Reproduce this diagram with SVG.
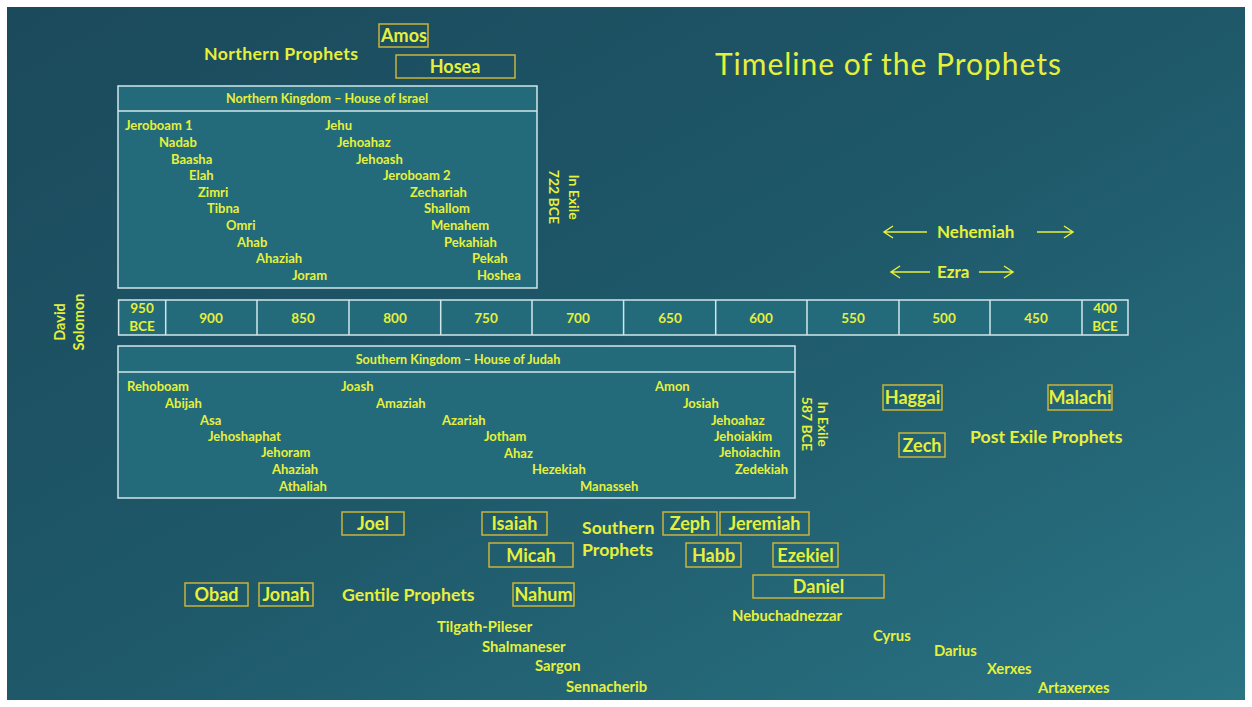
<svg xmlns="http://www.w3.org/2000/svg" width="1252" height="707" viewBox="0 0 1252 707">
<defs>
<linearGradient id="bg" x1="0" y1="0" x2="1" y2="1">
<stop offset="0" stop-color="#1b4a5c"/>
<stop offset="0.5" stop-color="#1e5869"/>
<stop offset="1" stop-color="#2a7484"/>
</linearGradient>
<style>
.t{font-family:Lato,"Liberation Sans",sans-serif;font-weight:bold;fill:#e6f03a}
.k{font-size:13px}
.h{font-size:12.6px;text-anchor:middle}
.p{font-size:18px;text-anchor:middle}
.l{font-size:17.7px}
.y{font-size:13.5px;text-anchor:middle}
.r{font-size:14.8px}
.v{font-size:14px;text-anchor:middle}
.pb{fill:none;stroke:#c8b43a;stroke-width:1.5}
.box{fill:#236b7b;stroke:#d2e6ea;stroke-width:1.5}
.div{stroke:#d2e6ea;stroke-width:1.5}
.ar{fill:none;stroke:#e6f03a;stroke-width:1.5}
</style>
</defs>
<rect x="0" y="0" width="1252" height="707" fill="#ffffff"/>
<rect x="7" y="7" width="1238" height="693" fill="url(#bg)"/>

<text class="t" x="715" y="75" font-size="30" style="font-weight:normal" textLength="346">Timeline of the Prophets</text>

<g id="northern-prophets">
<text class="t l" x="204" y="60" textLength="154">Northern  Prophets</text>
</g>
<g id="amos"><rect class="pb" x="379" y="24" width="49" height="23"/><text class="t p" x="404" y="42">Amos</text></g>
<g id="hosea"><rect class="pb" x="396" y="55" width="119" height="23"/><text class="t p" x="455" y="73">Hosea</text></g>

<g id="northern-kingdom">
<rect class="box" x="118" y="86" width="419" height="202"/>
<line class="div" x1="118" y1="111" x2="537" y2="111"/>
<text class="t h" x="327" y="103">Northern Kingdom – House of Israel</text>
<text class="t k" x="125" y="130">Jeroboam 1</text>
<text class="t k" x="159" y="147">Nadab</text>
<text class="t k" x="171" y="164">Baasha</text>
<text class="t k" x="189" y="180">Elah</text>
<text class="t k" x="198" y="197">Zimri</text>
<text class="t k" x="207" y="213">Tibna</text>
<text class="t k" x="226" y="230">Omri</text>
<text class="t k" x="237" y="247">Ahab</text>
<text class="t k" x="256" y="263">Ahaziah</text>
<text class="t k" x="292" y="280">Joram</text>
<text class="t k" x="325" y="130">Jehu</text>
<text class="t k" x="337" y="147">Jehoahaz</text>
<text class="t k" x="356" y="164">Jehoash</text>
<text class="t k" x="383" y="180">Jeroboam 2</text>
<text class="t k" x="410" y="197">Zechariah</text>
<text class="t k" x="424" y="213">Shallom</text>
<text class="t k" x="431" y="230">Menahem</text>
<text class="t k" x="444" y="247">Pekahiah</text>
<text class="t k" x="472" y="263">Pekah</text>
<text class="t k" x="477" y="280">Hoshea</text>
</g>

<g id="exile-722">
<text class="t v" transform="translate(569,197) rotate(90)">In Exile</text>
<text class="t v" transform="translate(549,197) rotate(90)">722 BCE</text>
</g>

<g id="david-solomon">
<text class="t" font-size="14.5" text-anchor="middle" transform="translate(65,322) rotate(-90)">David</text>
<text class="t" font-size="14.5" text-anchor="middle" transform="translate(84,322) rotate(-90)">Solomon</text>
</g>

<g id="timeline">
<rect class="box" x="118.6" y="300" width="1009.4" height="35"/>
<line class="div" x1="165.7" y1="300" x2="165.7" y2="335"/>
<line class="div" x1="257" y1="300" x2="257" y2="335"/>
<line class="div" x1="349" y1="300" x2="349" y2="335"/>
<line class="div" x1="440.7" y1="300" x2="440.7" y2="335"/>
<line class="div" x1="532" y1="300" x2="532" y2="335"/>
<line class="div" x1="623.6" y1="300" x2="623.6" y2="335"/>
<line class="div" x1="715.7" y1="300" x2="715.7" y2="335"/>
<line class="div" x1="807" y1="300" x2="807" y2="335"/>
<line class="div" x1="899" y1="300" x2="899" y2="335"/>
<line class="div" x1="990" y1="300" x2="990" y2="335"/>
<line class="div" x1="1082" y1="300" x2="1082" y2="335"/>
<text class="t y" x="142" y="313">950</text>
<text class="t y" x="142" y="331">BCE</text>
<text class="t y" x="211" y="323">900</text>
<text class="t y" x="303" y="323">850</text>
<text class="t y" x="395" y="323">800</text>
<text class="t y" x="486" y="323">750</text>
<text class="t y" x="578" y="323">700</text>
<text class="t y" x="670" y="323">650</text>
<text class="t y" x="761" y="323">600</text>
<text class="t y" x="853" y="323">550</text>
<text class="t y" x="944" y="323">500</text>
<text class="t y" x="1036" y="323">450</text>
<text class="t y" x="1105" y="313">400</text>
<text class="t y" x="1105" y="331">BCE</text>
</g>

<g id="southern-kingdom">
<rect class="box" x="118" y="346" width="677" height="152"/>
<line class="div" x1="118" y1="372" x2="795" y2="372"/>
<text class="t h" x="458" y="364">Southern  Kingdom – House of Judah</text>
<text class="t k" x="127" y="391">Rehoboam</text>
<text class="t k" x="165" y="408">Abijah</text>
<text class="t k" x="200" y="425">Asa</text>
<text class="t k" x="208" y="441">Jehoshaphat</text>
<text class="t k" x="261" y="457">Jehoram</text>
<text class="t k" x="272" y="474">Ahaziah</text>
<text class="t k" x="279" y="491">Athaliah</text>
<text class="t k" x="341" y="391">Joash</text>
<text class="t k" x="376" y="408">Amaziah</text>
<text class="t k" x="442" y="425">Azariah</text>
<text class="t k" x="484" y="441">Jotham</text>
<text class="t k" x="504" y="458">Ahaz</text>
<text class="t k" x="532" y="474">Hezekiah</text>
<text class="t k" x="580" y="491">Manasseh</text>
<text class="t k" x="655" y="391">Amon</text>
<text class="t k" x="683" y="408">Josiah</text>
<text class="t k" x="711" y="425">Jehoahaz</text>
<text class="t k" x="714" y="441">Jehoiakim</text>
<text class="t k" x="719" y="457">Jehoiachin</text>
<text class="t k" x="735" y="474">Zedekiah</text>
</g>

<g id="exile-587">
<text class="t v" transform="translate(818,424) rotate(90)">In Exile</text>
<text class="t v" transform="translate(802,424) rotate(90)">587 BCE</text>
</g>

<g id="nehemiah"><text class="t" font-size="17" x="937" y="238">Nehemiah</text></g>
<g id="ezra"><text class="t" font-size="17" x="937" y="278">Ezra</text></g>

<g id="connectors">
<path class="ar" d="M927 232 H884 M893 226 L884 232 L893 238"/>
<path class="ar" d="M1037 232 H1073 M1064 226 L1073 232 L1064 238"/>
<path class="ar" d="M930 272 H891 M900 266 L891 272 L900 278"/>
<path class="ar" d="M979 272 H1013 M1004 266 L1013 272 L1004 278"/>
</g>

<g id="haggai"><rect class="pb" x="883" y="385" width="59" height="25"/><text class="t p" x="912.5" y="404">Haggai</text></g>
<g id="malachi"><rect class="pb" x="1048" y="385" width="64" height="25"/><text class="t p" x="1080" y="404">Malachi</text></g>
<g id="zech"><rect class="pb" x="899" y="433" width="46" height="24"/><text class="t p" x="922" y="452">Zech</text></g>
<g id="post-exile-prophets"><text class="t l" x="970" y="443">Post Exile Prophets</text></g>

<g id="joel"><rect class="pb" x="342" y="512" width="62" height="23"/><text class="t p" x="373" y="530">Joel</text></g>
<g id="isaiah"><rect class="pb" x="482" y="512" width="65" height="23"/><text class="t p" x="514.5" y="530">Isaiah</text></g>
<g id="micah"><rect class="pb" x="489" y="543" width="84" height="24"/><text class="t p" x="531" y="562">Micah</text></g>
<g id="southern-prophets">
<text class="t l" x="582" y="534">Southern</text>
<text class="t l" x="582" y="556">Prophets</text>
</g>
<g id="zeph"><rect class="pb" x="663" y="512" width="54" height="23"/><text class="t p" x="690" y="530">Zeph</text></g>
<g id="jeremiah"><rect class="pb" x="720" y="512" width="89" height="23"/><text class="t p" x="764.5" y="530">Jeremiah</text></g>
<g id="habb"><rect class="pb" x="686" y="543" width="55" height="24"/><text class="t p" x="713.5" y="562">Habb</text></g>
<g id="ezekiel"><rect class="pb" x="773" y="543" width="65" height="24"/><text class="t p" x="805.5" y="562">Ezekiel</text></g>
<g id="daniel"><rect class="pb" x="753" y="575" width="131" height="23"/><text class="t p" x="818.5" y="593">Daniel</text></g>

<g id="obad"><rect class="pb" x="185" y="583" width="63" height="23"/><text class="t p" x="216.5" y="601">Obad</text></g>
<g id="jonah"><rect class="pb" x="259" y="583" width="54" height="23"/><text class="t p" x="286" y="601">Jonah</text></g>
<g id="gentile-prophets"><text class="t l" x="342" y="601">Gentile Prophets</text></g>
<g id="nahum"><rect class="pb" x="513" y="583" width="61" height="23"/><text class="t p" x="543.5" y="601">Nahum</text></g>

<g id="rulers">
<text class="t r" x="437" y="632">Tilgath-Pileser</text>
<text class="t r" x="482" y="652">Shalmaneser</text>
<text class="t r" x="535" y="671">Sargon</text>
<text class="t r" x="566" y="692">Sennacherib</text>
<text class="t r" x="732" y="621">Nebuchadnezzar</text>
<text class="t r" x="873" y="641">Cyrus</text>
<text class="t r" x="934" y="656">Darius</text>
<text class="t r" x="987" y="674">Xerxes</text>
<text class="t r" x="1038" y="693">Artaxerxes</text>
</g>
</svg>
